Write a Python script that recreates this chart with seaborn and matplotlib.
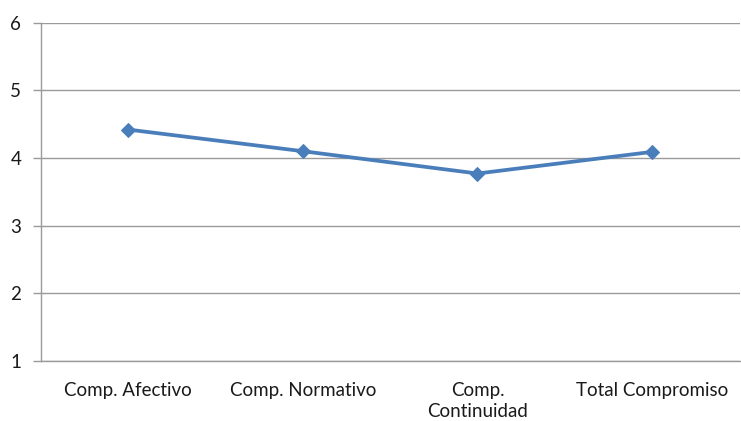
import matplotlib
matplotlib.use("Agg")
import matplotlib.pyplot as plt
import pandas as pd
import seaborn as sns

# ── Data ──────────────────────────────────────────────────────────────────────
categories = ["Comp. Afectivo", "Comp. Normativo", "Comp.\nContinuidad", "Total Compromiso"]
scores = [4.42, 4.10, 3.77, 4.09]
y_ticks = [1, 2, 3, 4, 5, 6]

LINE = "#4A7EBB"
GRID = "#9A9A9A"

sns.set_theme(style="white")
plt.rcParams["font.family"] = ["Lato", "DejaVu Sans"]

df = pd.DataFrame({"cat": categories, "score": scores})

fig = plt.figure(figsize=(7.41, 4.21), dpi=100)
ax = fig.add_axes([0.055, 0.143, 0.943, 0.803])

sns.lineplot(data=df, x="cat", y="score", sort=False, ax=ax, color=LINE,
             linewidth=2.7, marker="D", markersize=7.5, markeredgecolor=LINE)

n = len(categories)
ax.set_xlim(-0.5, n - 0.5)
ax.set_ylim(y_ticks[0], y_ticks[-1])
ax.set_yticks(y_ticks)
ax.yaxis.grid(True, color=GRID, linewidth=1)
ax.set_axisbelow(True)

# Excel-style ticks between categories
ax.set_xticks(range(n))
ax.set_xticklabels(categories, fontsize=13.5, color="#1a1a1a", linespacing=1.3)
ax.set_xticks([i - 0.5 for i in range(n + 1)], minor=True)
ax.tick_params(axis="x", which="major", length=0, pad=15)
ax.tick_params(axis="x", which="minor", length=6, color=GRID, width=1, direction="out")
ax.tick_params(axis="y", length=6, color=GRID, width=1, direction="out",
               labelsize=13.5, labelcolor="#1a1a1a", pad=8)
ax.tick_params(axis="both", bottom=True, left=True)

for side in ["top", "right"]:
    ax.spines[side].set_visible(False)
for side in ["left", "bottom"]:
    ax.spines[side].set_color(GRID)
    ax.spines[side].set_linewidth(1)

ax.set_xlabel("")
ax.set_ylabel("")

fig.savefig("out.png", dpi=100, facecolor="white")
